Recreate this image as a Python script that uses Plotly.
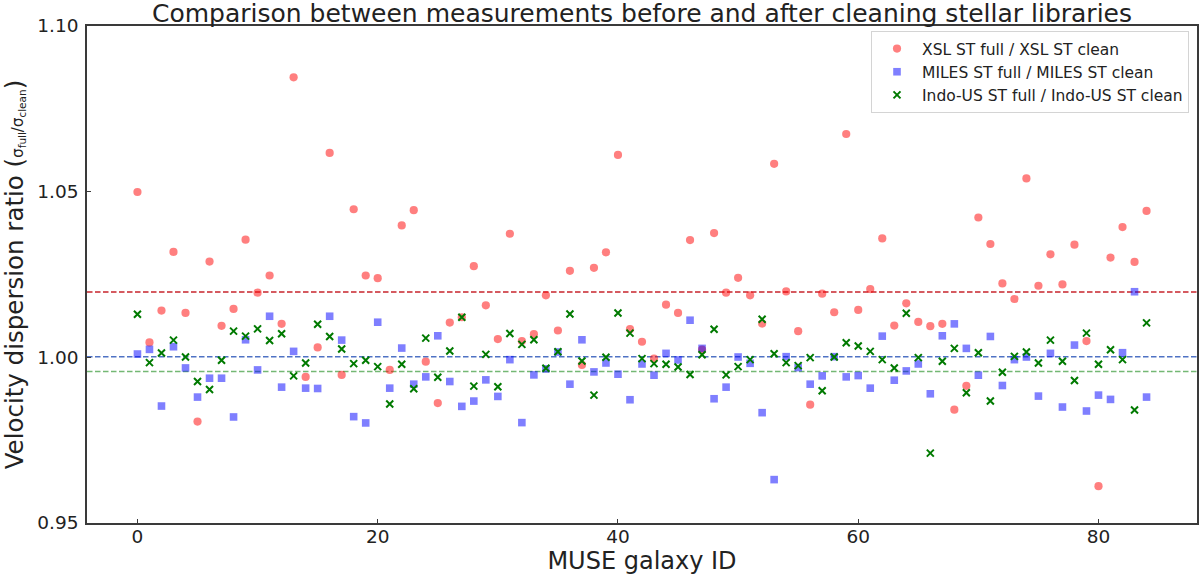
import plotly.graph_objects as go

# ---------------- data ----------------
galaxy_id = list(range(85))

xsl_ratio = [
    1.0499, 1.0045, 1.0141, 1.0318, 1.0134, 0.9806, 1.0289, 1.0095, 1.0146, 1.0355,
    1.0195, 1.0247, 1.0101, 1.0845, 0.9941, 1.0030, 1.0617, 0.9947, 1.0447, 1.0247,
    1.0239, 0.9962, 1.0398, 1.0444, 0.9987, 0.9862, 1.0105, 1.0121, 1.0275, 1.0157,
    1.0055, 1.0373, 1.0049, 1.0070, 1.0187, 1.0081, 1.0261, 0.9977, 1.0270, 1.0317,
    1.0611, 1.0085, 1.0047, 0.9996, 1.0159, 1.0134, 1.0354, 1.0023, 1.0375, 1.0195,
    1.0240, 1.0187, 1.0102, 1.0584, 1.0199, 1.0079, 0.9857, 1.0192, 1.0136, 1.0674,
    1.0143, 1.0206, 1.0359, 1.0096, 1.0163, 1.0107, 1.0094, 1.0101, 0.9842, 0.9914,
    1.0422, 1.0342, 1.0223, 1.0176, 1.0540, 1.0216, 1.0311, 1.0220, 1.0340, 1.0049,
    0.9611, 1.0301, 1.0393, 1.0288, 1.0442,
]

miles_ratio = [
    1.0010, 1.0024, 0.9853, 1.0032, 0.9968, 0.9880, 0.9937, 0.9937, 0.9820, 1.0053,
    0.9962, 1.0124, 0.9910, 1.0018, 0.9907, 0.9906, 1.0124, 1.0052, 0.9821, 0.9802,
    1.0106, 0.9907, 1.0028, 0.9919, 0.9941, 1.0065, 0.9927, 0.9852, 0.9868, 0.9932,
    0.9882, 0.9993, 0.9803, 0.9947, 0.9965, 1.0016, 0.9919, 1.0053, 0.9956, 0.9983,
    0.9949, 0.9872, 0.9980, 0.9946, 1.0012, 0.9992, 1.0112, 1.0027, 0.9875, 0.9910,
    1.0001, 0.9982, 0.9833, 0.9631, 1.0002, 0.9969, 0.9919, 0.9944, 1.0002, 0.9941,
    0.9945, 0.9907, 1.0064, 0.9931, 0.9959, 0.9980, 0.9890, 1.0065, 1.0101, 1.0027,
    0.9946, 1.0063, 0.9915, 0.9993, 1.0001, 0.9883, 1.0012, 0.9850, 1.0037, 0.9838,
    0.9886, 0.9873, 1.0014, 1.0198, 0.9880,
]

indo_ratio = [
    1.0130, 0.9984, 1.0013, 1.0052, 1.0001, 0.9927, 0.9903, 0.9991, 1.0079, 1.0064,
    1.0086, 1.0051, 1.0071, 0.9944, 0.9983, 1.0100, 1.0063, 1.0025, 0.9981, 0.9991,
    0.9972, 0.9859, 0.9979, 0.9905, 1.0058, 0.9940, 1.0019, 1.0121, 0.9913, 1.0009,
    0.9911, 1.0072, 1.0039, 1.0053, 0.9967, 1.0017, 1.0131, 0.9989, 0.9886, 1.0000,
    1.0134, 1.0073, 0.9996, 0.9981, 0.9979, 0.9971, 0.9948, 1.0008, 1.0085, 0.9947,
    0.9972, 0.9993, 1.0115, 1.0011, 0.9984, 0.9975, 0.9999, 0.9899, 1.0001, 1.0044,
    1.0034, 1.0018, 0.9993, 0.9968, 1.0133, 0.9999, 0.9711, 0.9988, 1.0027, 0.9893,
    1.0014, 0.9868, 0.9955, 1.0003, 1.0016, 0.9983, 1.0052, 0.9988, 0.9930, 1.0073,
    0.9979, 1.0023, 0.9993, 0.9841, 1.0104,
]

series_names = [
    "XSL ST full / XSL ST clean",
    "MILES ST full / MILES ST clean",
    "Indo-US ST full / Indo-US ST clean",
]

# dashed reference levels (red, blue, green)
reference_levels = [1.0197, 1.0002, 0.9957]

x_ticks = [0, 20, 40, 60, 80]
y_ticks = [0.95, 1.00, 1.05, 1.10]

# ---------------- styles ----------------
level_colors = ["#c8242c", "#4f72c4", "#74b874"]
axis_color = "#3a3a3a"
text_color = "#222222"
font_family = "DejaVu Sans"

fig = go.Figure()

fig.add_trace(go.Scatter(
    x=galaxy_id, y=xsl_ratio, mode="markers", name=series_names[0],
    marker=dict(symbol="circle", size=8.2, color="rgba(255,0,0,0.5)",
                line=dict(width=0)),
))
fig.add_trace(go.Scatter(
    x=galaxy_id, y=miles_ratio, mode="markers", name=series_names[1],
    marker=dict(symbol="square", size=7.6, color="rgba(0,0,255,0.5)",
                line=dict(width=0)),
))
fig.add_trace(go.Scatter(
    x=galaxy_id, y=indo_ratio, mode="markers", name=series_names[2],
    marker=dict(symbol="x-thin", size=7, color="#007a00",
                line=dict(width=2, color="#007a00")),
))

for level, color in zip(reference_levels, level_colors):
    fig.add_hline(y=level, line=dict(color=color, width=1.5, dash="5.5px,2.5px"),
                  layer="below")

fig.update_layout(
    width=1200, height=575,
    margin=dict(l=87, r=1, t=26, b=52),
    paper_bgcolor="white", plot_bgcolor="white",
    font=dict(family=font_family, color=text_color),
    title=dict(
        text="Comparison between measurements before and after cleaning stellar libraries",
        x=0.5, xref="paper", xanchor="center",
        y=1 - 4 / 575, yref="container", yanchor="top", pad=dict(t=0),
        font=dict(size=25, family=font_family, color=text_color),
    ),
    showlegend=True,
    legend=dict(
        x=0.9928, y=0.9899, xanchor="right", yanchor="top",
        bgcolor="white", bordercolor="#d4d4d4", borderwidth=1,
        font=dict(size=15.5, family=font_family, color=text_color),
        itemwidth=40, tracegroupgap=0,
    ),
)

fig.update_xaxes(
    range=[-4.2, 88.2], tickmode="array", tickvals=x_ticks,
    ticks="inside", ticklen=4, tickwidth=1, tickcolor=axis_color,
    showline=True, linecolor=axis_color, linewidth=1.6, mirror=True,
    showgrid=False, zeroline=False,
    tickfont=dict(size=18.5, family=font_family, color=text_color),
    ticklabelstandoff=-4,
    title=dict(text="MUSE galaxy ID", standoff=0,
               font=dict(size=24, family=font_family, color=text_color)),
)

fig.update_yaxes(
    range=[0.95, 1.10], tickmode="array", tickvals=y_ticks, tickformat=".2f",
    ticks="inside", ticklen=4, tickwidth=1, tickcolor=axis_color,
    showline=True, linecolor=axis_color, linewidth=1.6, mirror=True,
    showgrid=False, zeroline=False,
    tickfont=dict(size=18.5, family=font_family, color=text_color),
    ticklabelstandoff=3,
    title=dict(
        text=("Velocity dispersion ratio ("
              "<span style=\"font-size:15px\">σ<sub>full</sub>/σ<sub>clean</sub></span>)"),
        standoff=10,
        font=dict(size=24.5, family=font_family, color=text_color),
    ),
)

fig.write_html(
    "out.html",
    config={"displayModeBar": False},
    post_script=(
        "document.documentElement.style.margin='0';"
        "document.body.style.margin='0';"
        "document.body.style.padding='0';"
        "document.body.style.overflow='hidden';"
    ),
)
